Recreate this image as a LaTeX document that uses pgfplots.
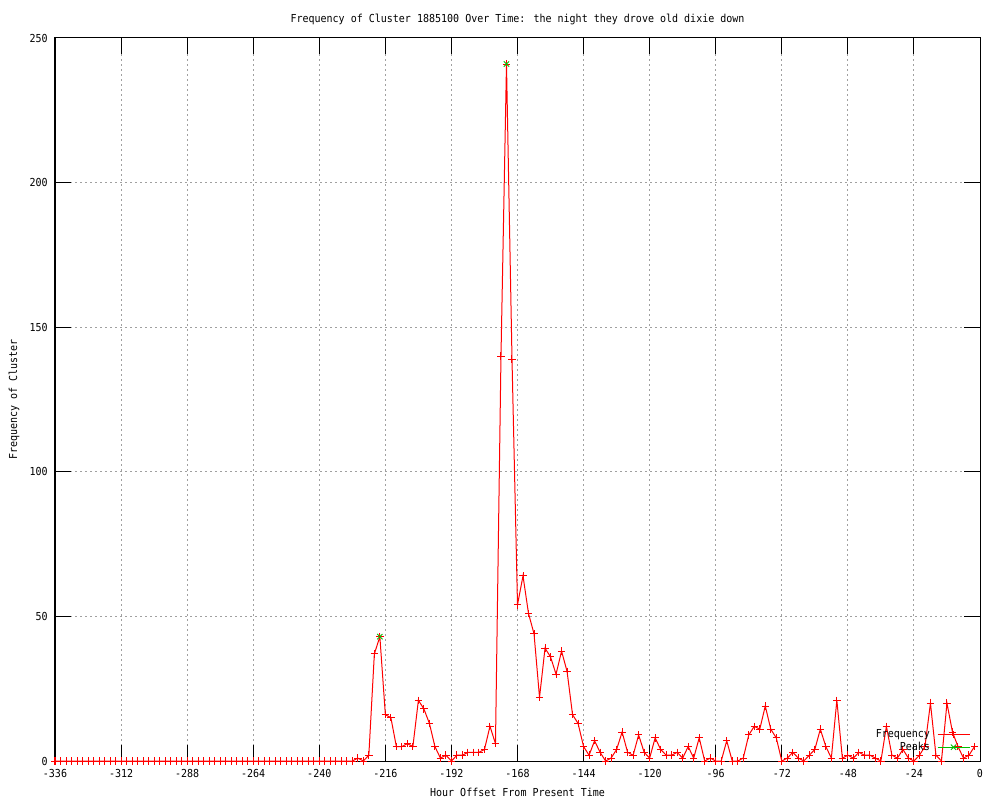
\documentclass[border=0pt]{standalone}
\usepackage{fontspec}
\setmainfont{DejaVu Sans Mono}[FakeStretch=0.91]
\usepackage{pgfplots}
\usepackage{pgfplotstable}
\pgfplotsset{compat=1.18}
\definecolor{gridgray}{RGB}{160,160,160}
\definecolor{peakgreen}{RGB}{0,192,0}
\pgfplotsset{
  layers/mylayers/.define layer set={axis background,axis grid,main,axis ticks,axis lines,axis tick labels,axis descriptions,axis foreground}{},
}
\pgfplotstableread{
x y
-336 0
-334 0
-332 0
-330 0
-328 0
-326 0
-324 0
-322 0
-320 0
-318 0
-316 0
-314 0
-312 0
-310 0
-308 0
-306 0
-304 0
-302 0
-300 0
-298 0
-296 0
-294 0
-292 0
-290 0
-288 0
-286 0
-284 0
-282 0
-280 0
-278 0
-276 0
-274 0
-272 0
-270 0
-268 0
-266 0
-264 0
-262 0
-260 0
-258 0
-256 0
-254 0
-252 0
-250 0
-248 0
-246 0
-244 0
-242 0
-240 0
-238 0
-236 0
-234 0
-232 0
-230 0
-228 0
-226 1
-224 0
-222 2
-220 37
-218 43
-216 16
-214 15
-212 5
-210 5
-208 6
-206 5
-204 21
-202 18
-200 13
-198 5
-196 1
-194 2
-192 0
-190 2
-188 2
-186 3
-184 3
-182 3
-180 4
-178 12
-176 6
-174 140
-172 241
-170 139
-168 54
-166 64
-164 51
-162 44
-160 22
-158 39
-156 36
-154 30
-152 38
-150 31
-148 16
-146 13
-144 5
-142 2
-140 7
-138 3
-136 0
-134 1
-132 4
-130 10
-128 3
-126 2
-124 9
-122 3
-120 1
-118 8
-116 4
-114 2
-112 2
-110 3
-108 1
-106 5
-104 1
-102 8
-100 0
-98 1
-96 0
-94 0
-92 7
-90 0
-88 0
-86 1
-84 9
-82 12
-80 11
-78 19
-76 11
-74 8
-72 0
-70 1
-68 3
-66 1
-64 0
-62 2
-60 4
-58 11
-56 5
-54 1
-52 21
-50 1
-48 2
-46 1
-44 3
-42 2
-40 2
-38 1
-36 0
-34 12
-32 2
-30 1
-28 4
-26 1
-24 0
-22 2
-20 5
-18 20
-16 2
-14 0
-12 20
-10 10
-8 5
-6 1
-4 2
-2 5
}\freqdata
\begin{document}
\fontsize{8.25pt}{10pt}\selectfont
\begin{tikzpicture}
\begin{axis}[
  set layers=mylayers,
  scale only axis, width=693.75pt, height=542.25pt,
  xmin=-336, xmax=0, ymin=0, ymax=250,
  xtick={-336,-312,...,0}, ytick={0,50,...,250},
  xticklabels={-336,-312,-288,-264,-240,-216,-192,-168,-144,-120,-96,-72,-48,-24,0},
  yticklabels={0,50,100,150,200,250},
  tick align=inside,
  grid=major,
  major grid style={gridgray, dash pattern=on 1.5pt off 2.25pt, line width=0.75pt},
  axis line style={black, line width=0.75pt},
  major tick length=12pt,
  tick style={black, line width=0.75pt},
  xticklabel style={anchor=base, yshift=-12pt, inner sep=0pt},
  yticklabel style={anchor=east, xshift=-5.25pt, inner sep=0pt},
  every axis title shift=0pt,
  title={Frequency of Cluster 1885100 Over Time: the night they drove old dixie down},
  title style={at={(axis description cs:0.5,1.0214)}, anchor=base, inner sep=0pt},
  xlabel={Hour Offset From Present Time},
  xlabel style={at={(axis description cs:0.5,-0.04979)}, anchor=base, inner sep=0pt},
  ylabel={Frequency of Cluster},
  ylabel style={at={(axis description cs:-0.04108,0.5)}, anchor=base, inner sep=0pt},
  legend plot pos=right,
  legend cell align=right,
  legend style={draw=none, fill=none, at={(axis description cs:0.9895,0.0443)}, anchor=north east,
    inner sep=0pt, column sep=5.25pt, row sep=2.25pt,
    nodes={inner sep=0pt, text height=6pt, text depth=1.5pt}},
]
\addplot[red, line width=0.75pt, mark=+, mark size=2.8pt, mark options={solid, draw=red, fill=red},
  legend image code/.code={\draw[mark repeat=2,mark phase=2] plot coordinates {(0pt,0pt) (12pt,0pt) (24pt,0pt)};}]
  table[x=x,y=y] {\freqdata};
\addlegendentry{Frequency}
\addplot[peakgreen, only marks, mark=x, mark size=2.8pt, line width=0.75pt, mark options={draw=peakgreen},
  legend image code/.code={\path (0pt,0pt) -- (24pt,0pt); \draw plot coordinates {(12pt,0pt)};}]
  coordinates {(-218,43) (-172,241)};
\addlegendentry{Peaks}
\end{axis}
\pgfresetboundingbox
\path[use as bounding box] (-41.25pt,-29.25pt) rectangle (708.75pt,570.75pt);
\end{tikzpicture}
\end{document}
